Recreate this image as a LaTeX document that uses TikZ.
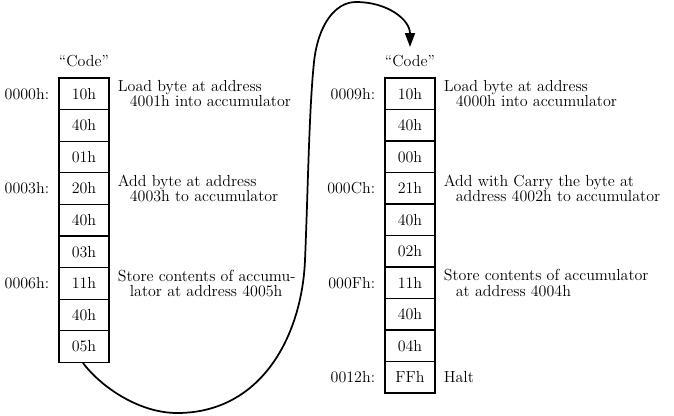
\documentclass[tikz,border=0pt]{standalone}
\usetikzlibrary{arrows.meta,calc}
\begin{document}
\begin{tikzpicture}[x=0.75pt,y=-0.75pt,
  font=\fontsize{12}{11.7}\selectfont,
  cell/.style={draw, line width=0.9pt, minimum width=37.5pt, minimum height=23.7pt, inner sep=0pt, anchor=center},
  addr/.style={anchor=east, inner sep=0pt},
  desc/.style={anchor=west, inner sep=0pt, align=left},
  conn/.style={line width=1.3pt, -{Triangle[length=10.5pt,width=7.5pt]}}]
\useasboundingbox (0,0) rectangle (674,415);
% left column
\foreach \t [count=\i from 0] in {10h,40h,01h,20h,40h,03h,11h,40h,05h}
  \node[cell] (L\i) at (84,{78+31.6*\i+15.8}) {\t};
% right column
\foreach \t [count=\i from 0] in {10h,40h,00h,21h,40h,02h,11h,40h,04h,FFh}
  \node[cell] (R\i) at (410,{78+31.5*\i+15.75}) {\t};
% headers
\node (codeL) at (84,61) {``Code''};
\node (codeR) at (410,61) {``Code''};
% addresses
\node[addr] (aL0) at ([xshift=-6.75pt]L0.west) {0000h:};
\node[addr] (aL3) at ([xshift=-6.75pt]L3.west) {0003h:};
\node[addr] (aL6) at ([xshift=-6.75pt]L6.west) {0006h:};
\node[addr] (aR0) at ([xshift=-6.75pt]R0.west) {0009h:};
\node[addr] (aR3) at ([xshift=-6.75pt]R3.west) {000Ch:};
\node[addr] (aR6) at ([xshift=-6.75pt]R6.west) {000Fh:};
\node[addr] (aR9) at ([xshift=-6.75pt]R9.west) {0012h:};
% descriptions
\node[desc] (dL0) at ([xshift=6pt]L0.east) {Load byte at address\\\hspace*{9pt}4001h into accumulator};
\node[desc] (dL3) at ([xshift=6pt]L3.east) {Add byte at address\\\hspace*{9pt}4003h to accumulator};
\node[desc] (dL6) at ([xshift=6pt]L6.east) {Store contents of accumu-\\\hspace*{9pt}lator at address 4005h};
\node[desc] (dR0) at ([xshift=6pt]R0.east) {Load byte at address\\\hspace*{9pt}4000h into accumulator};
\node[desc] (dR3) at ([xshift=6pt]R3.east) {Add with Carry the byte at\\\hspace*{9pt}address 4002h to accumulator};
\node[desc] (dR6) at ([xshift=6pt]R6.east) {Store contents of accumulator\\\hspace*{9pt}at address 4004h};
\node[desc] (dR9) at ([xshift=6pt]R9.east) {Halt};
% jump connector
\coordinate (tip) at (410,47);
\draw[conn] ([xshift=-0.75pt]L8.south) .. controls (102,388) and (140,413) .. (177,413)
  .. controls (262,413) and (302,335) .. (305,260)
  .. controls (308,190) and (309,110) .. (314,62)
  .. controls (318,25) and (335,2) .. (356,2)
  .. controls (388,2) and (410,20) .. (tip);
\end{tikzpicture}
\end{document}
